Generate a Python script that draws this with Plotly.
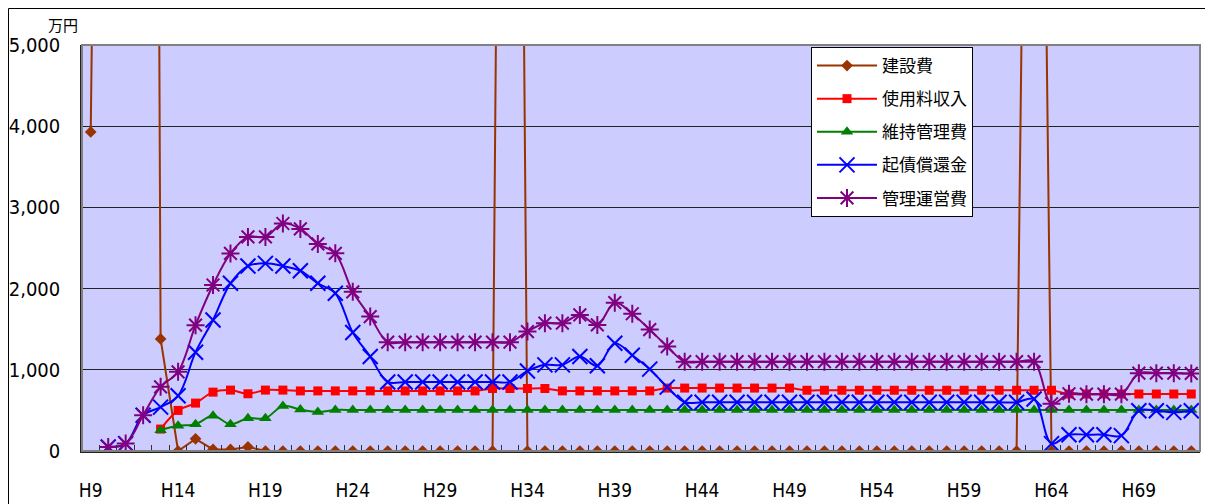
import plotly.graph_objects as go

# Heisei years H9..H72
years = list(range(9, 73))
tick_years = list(range(9, 73, 5))
tick_labels = [f"H{y}" for y in tick_years]

series_names = ["建設費", "使用料収入", "維持管理費", "起債償還金", "管理運営費"]

construction = [3930, 30000, 40000, 50000, 1380, 0, 150, 20, 20, 50] + [0] * 14 + [26000] + [0] * 29 + [18000] + [0] * 9
usage_fee = [None] * 4 + [270, 500, 590, 725, 750, 705, 750, 750, 740] + [740] * 10 + [770] * 4 + [740] * 6 + [775] * 8 + [748] * 15 + [702] * 8
maintenance = [None] * 4 + [257, 310, 330, 433, 330, 404, 404, 555, 510, 480] + [505] * 50
bond_repay = [None, 49, 91, 440, 540, 680, 1217, 1614, 2065, 2278, 2311, 2278, 2220, 2065, 1942, 1460, 1163] + [850] * 8 + [985, 1061, 1061, 1163, 1049, 1328, 1180, 1008, 787] + [600] * 20 + [640] + [91, 201, 201, 201, 189, 496, 496, 476, 496]
operation = [None, 49, 91, 440, 790, 975, 1550, 2044, 2433, 2637, 2637, 2802, 2735, 2550, 2434, 1960, 1655] + [1340] * 8 + [1471, 1574, 1574, 1676, 1553, 1827, 1690, 1495, 1286] + [1100] * 21 + [582, 705, 700, 700, 700, 959, 959, 959, 955]

y_ticks = [0, 1000, 2000, 3000, 4000, 5000]

# page has an 8px body margin; figure is sized to fit the 1213x504 window
OFF = 8
W, H = 1205, 496
ML, MR, MT, MB = 74, 13, 37, 53
PW, PH = W - ML - MR, H - MT - MB

def px2paper_x(page_x):
    return (page_x - OFF - ML) / PW

def px2paper_y(page_y):
    return (H - MB - (page_y - OFF)) / PH

CJK = "Noto Sans CJK JP"
NUM = "DejaVu Sans Condensed, DejaVu Sans, sans-serif"

fig = go.Figure()

styles = [
    dict(data=construction, color="#993300", symbol="diamond", size=9, shape="linear", lw=2, mlw=0),
    dict(data=usage_fee, color="#FF0000", symbol="square", size=9, shape="spline", lw=2, mlw=0),
    dict(data=maintenance, color="#008000", symbol="triangle-up", size=11, shape="spline", lw=2, mlw=0),
    dict(data=bond_repay, color="#0000FF", symbol="x-thin-open", size=15, shape="spline", lw=2, mlw=2),
    dict(data=operation, color="#800080", symbol="asterisk-open", size=15, shape="spline", lw=2, mlw=2),
]

for i, (name, st) in enumerate(zip(series_names, styles)):
    fig.add_trace(go.Scatter(
        x=years, y=st["data"], name=name, mode="lines+markers",
        legendgroup=f"g{i}",
        line=dict(color=st["color"], width=st["lw"], shape=st["shape"], smoothing=1),
        marker=dict(symbol=st["symbol"], size=st["size"], color=st["color"],
                    line=dict(color=st["color"], width=st["mlw"])),
        connectgaps=False,
    ))

fig.update_layout(
    width=W, height=H,
    margin=dict(l=ML, r=MR, t=MT, b=MB, pad=0, autoexpand=False),
    paper_bgcolor="white",
    plot_bgcolor="#CCCCFF",
    showlegend=True,
    legend=dict(
        x=px2paper_x(811), y=px2paper_y(47), xanchor="left", yanchor="top",
        bgcolor="white", bordercolor="black", borderwidth=1,
        font=dict(family=CJK, size=17, color="black"),
        tracegroupgap=8, itemwidth=60,
    ),
    xaxis=dict(
        range=[8.5, 72.5], tickmode="array", tickvals=tick_years, ticktext=tick_labels,
        ticks="", showgrid=False, zeroline=False, automargin=False,
        showline=True, linecolor="#222", linewidth=1.5,
        tickfont=dict(family=NUM, size=19, color="black"),
        ticklabelstandoff=21,
        minor=dict(tickmode="linear", tick0=8.5, dtick=1, ticks="inside", ticklen=6,
                   tickcolor="#333", tickwidth=1, showgrid=False),
    ),
    yaxis=dict(
        range=[0, 5000], tickmode="array", tickvals=y_ticks,
        ticktext=[f"{v:,}" for v in y_ticks],
        ticks="", showgrid=True, gridcolor="#222", gridwidth=1, zeroline=False,
        automargin=False,
        showline=True, linecolor="#222", linewidth=1.5,
        tickfont=dict(family=NUM, size=20, color="black"),
        ticklabelstandoff=16,
    ),
    shapes=[
        dict(type="rect", xref="paper", yref="paper", x0=0, x1=1, y0=0, y1=1,
             line=dict(color="#808080", width=2), fillcolor="rgba(0,0,0,0)", layer="above"),
        dict(type="rect", xref="paper", yref="paper",
             x0=px2paper_x(OFF + 0.5), x1=px2paper_x(1240), y0=px2paper_y(540), y1=px2paper_y(OFF + 0.5),
             line=dict(color="black", width=1), fillcolor="rgba(0,0,0,0)", layer="above"),
    ],
    annotations=[
        dict(text="万円", xref="paper", yref="paper", x=px2paper_x(63), y=px2paper_y(24),
             xanchor="center", yanchor="middle", showarrow=False,
             font=dict(family=CJK, size=15, color="black")),
    ],
)

fig.write_html("out.html")
